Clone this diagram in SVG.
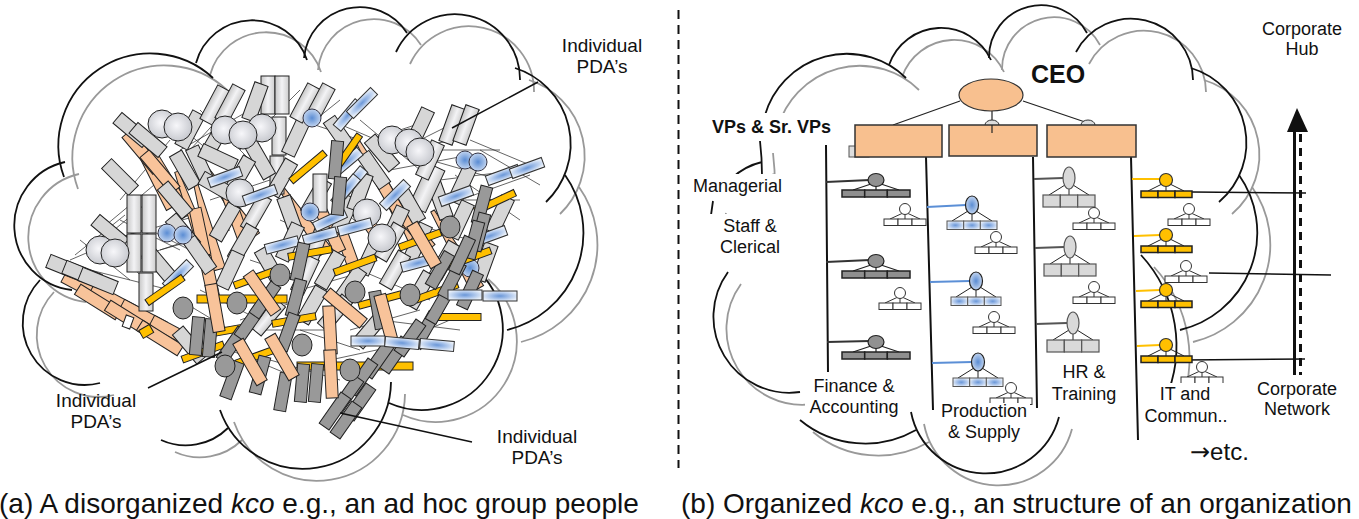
<svg xmlns="http://www.w3.org/2000/svg" xmlns:xlink="http://www.w3.org/1999/xlink" width="1359" height="519" viewBox="0 0 1359 519">
<style>
.arc{fill:none;stroke-width:1.8}
.t{font-family:"Liberation Sans",Arial,sans-serif;fill:#111}
.lb{font-size:18px}
.ind{font-size:19px}
.bg{fill:#fff;stroke:none}
.mesh{fill:none;stroke:#222;stroke-width:0.7}
.ln{fill:none;stroke:#111;stroke-width:1.5}
</style>
<defs>
<linearGradient id="gLG" x1="0" x2="1" y1="0" y2="0"><stop offset="0" stop-color="#c6c6c6"/><stop offset="0.5" stop-color="#f3f3f5"/><stop offset="1" stop-color="#cdcdcd"/></linearGradient>
<radialGradient id="gCL" cx="0.45" cy="0.45" r="0.6"><stop offset="0" stop-color="#f7f7fa"/><stop offset="1" stop-color="#c4c6cc"/></radialGradient>
<radialGradient id="gBL" cx="0.5" cy="0.5" r="0.55"><stop offset="0" stop-color="#6a97d8"/><stop offset="0.55" stop-color="#aec7ec"/><stop offset="1" stop-color="#e8eff9"/></radialGradient>
<radialGradient id="gCB" cx="0.5" cy="0.5" r="0.55"><stop offset="0" stop-color="#5b8dd4"/><stop offset="1" stop-color="#cddcf2"/></radialGradient>
<rect id="lg" x="-7" y="-19" width="14" height="38" fill="url(#gLG)" stroke="#222"/>
<rect id="ls" x="-7" y="-19" width="14" height="38" fill="#d6d6d6" stroke="#222"/>
<rect id="lw" x="-9" y="-23" width="18" height="46" fill="url(#gLG)" stroke="#222"/>
<rect id="pe" x="-6" y="-24" width="12" height="48" fill="#f8c39a" stroke="#222"/>
<path id="pw" d="M-2,-45 L2,-45 L7,45 L-7,45Z" fill="#f8c39a" stroke="#222"/>
<rect id="dg" x="-6" y="-19" width="12" height="38" fill="#999" stroke="#222"/>
<rect id="ye" x="-22" y="-3.5" width="44" height="7" fill="#ffc000" stroke="#222"/>
<rect id="bl" x="-17" y="-5" width="34" height="10" fill="url(#gBL)" stroke="#333"/>
<circle id="cl" r="14" fill="url(#gCL)" stroke="#222"/>
<ellipse id="cd" rx="10" ry="11" fill="#999" stroke="#222"/>
<circle id="cb" r="9" fill="url(#gCB)" stroke="#334"/>
<g id="tw">
<path d="M-2,4 L-15,10 M0,5.5 L0,10 M2,4 L15,10" fill="none" stroke="#333" stroke-width="1"/>
<circle r="5.5" fill="#fff" stroke="#333"/>
<rect x="-21" y="10" width="14" height="6.5" fill="#fff" stroke="#333"/>
<rect x="-7" y="10" width="14" height="6.5" fill="#fff" stroke="#333"/>
<rect x="7" y="10" width="14" height="6.5" fill="#fff" stroke="#333"/>
</g>
<g id="td">
<path d="M-5,4 L-23,10 M0,6 L0,10 M5,4 L23,10" fill="none" stroke="#222" stroke-width="1.2"/>
<ellipse rx="8" ry="6.5" fill="#919191" stroke="#222" stroke-width="1.2"/>
<rect x="-34" y="10" width="22.7" height="7" fill="#8f8f8f" stroke="#222" stroke-width="1.5"/>
<rect x="-11.3" y="10" width="22.7" height="7" fill="#8f8f8f" stroke="#222" stroke-width="1.5"/>
<rect x="11.3" y="10" width="22.7" height="7" fill="#8f8f8f" stroke="#222" stroke-width="1.5"/>
</g>
<g id="tb">
<path d="M-4,6 L-20,16 M0,9 L0,16 M4,6 L20,16" fill="none" stroke="#222" stroke-width="1"/>
<ellipse rx="6.5" ry="9" fill="url(#gCB)" stroke="#222" stroke-width="1.2"/>
<rect x="-25" y="16" width="16.7" height="8.5" fill="url(#gBL)" stroke="#555"/>
<rect x="-8.3" y="16" width="16.7" height="8.5" fill="url(#gBL)" stroke="#555"/>
<rect x="8.3" y="16" width="16.7" height="8.5" fill="url(#gBL)" stroke="#555"/>
</g>
<g id="tg">
<path d="M-4,7 L-20,17 M0,11 L0,17 M4,7 L20,17" fill="none" stroke="#222" stroke-width="1"/>
<ellipse rx="6" ry="11" fill="#d9d9d9" stroke="#555" stroke-width="1.2"/>
<rect x="-26" y="17" width="17.3" height="12" fill="#d9d9d9" stroke="#555" stroke-width="1.2"/>
<rect x="-8.7" y="17" width="17.3" height="12" fill="#d9d9d9" stroke="#555" stroke-width="1.2"/>
<rect x="8.7" y="17" width="17.3" height="12" fill="#d9d9d9" stroke="#555" stroke-width="1.2"/>
</g>
<g id="ty">
<path d="M-4,4 L-18,11 M0,6 L0,11 M4,4 L18,11" fill="none" stroke="#222" stroke-width="1"/>
<circle r="6.5" fill="#ffc000" stroke="#333" stroke-width="1.2"/>
<rect x="-25" y="11" width="17" height="6.5" fill="#ffc000" stroke="#222" stroke-width="1.5"/>
<rect x="-8" y="11" width="17" height="6.5" fill="#ffc000" stroke="#222" stroke-width="1.5"/>
<rect x="9" y="11" width="17" height="6.5" fill="#ffc000" stroke="#222" stroke-width="1.5"/>
</g>
<g id="cloudL">
<path d="M64,177 A92,92 0 0 1 213,78"/>
<path d="M196,63 A58,58 0 0 1 307,60"/>
<path d="M304,58 A56,56 0 0 1 407,33"/>
<path d="M396,52 A65,65 0 0 1 520,80"/>
<path d="M515,68 A80,80 0 0 1 546,202"/>
<path d="M565,175 A100,100 0 0 1 507,330"/>
<path d="M474,267 A81,81 0 0 1 389,403"/>
<path d="M220,410 A88,88 0 0 0 391,382"/>
<path d="M161,440 A60,60 0 0 0 228,428"/>
<path d="M40,280 A62,62 0 0 0 100,383"/>
<path d="M65,162 A65,65 0 0 0 72,290"/>
</g>
<g id="cloudR">
<path d="M765,115 A85,85 0 0 1 906,78"/>
<path d="M889,65 A55,55 0 0 1 991,60"/>
<path d="M989,58 A52,52 0 0 1 1087,33"/>
<path d="M1076,52 A62,62 0 0 1 1193,80"/>
<path d="M1191,68 A78,78 0 0 1 1219,202"/>
<path d="M1239,175 A100,100 0 0 1 1180,330"/>
<path d="M1141,255 A134,134 0 0 1 1165,400"/>
<path d="M911,412 A76,76 0 0 0 1059,417"/>
<path d="M800,420 A102,102 0 0 0 916,430"/>
<path d="M728,272 A76,76 0 0 0 800,392"/>
<path d="M760,141 Q762,158 762,175 M732,178 Q745,166 762,162 M713,201 L711,215 M709,221 L708,232"/>
</g>
</defs>

<rect width="1359" height="519" fill="#fff"/>

<!-- ===== Left panel (a) ===== -->
<g id="panel-a">
<g id="cloud-a">
<use href="#cloudL" class="arc" stroke="#999" transform="translate(14,12)"/>
<use href="#cloudL" class="arc" stroke="#111"/>
</g>
<g id="jumble">
<path class="mesh" d="M120,200 L170,140 M100,230 L160,180 M90,250 L150,200 M70,260 L140,230 M110,240 L200,215 M150,230 L210,260 M160,250 L230,230 M180,150 L250,110 M190,150 L240,95 M240,150 L300,90 M300,120 L360,140 M330,120 L400,150 M370,140 L430,120 M380,150 L460,140 M390,170 L470,155 M420,140 L480,110 M430,160 L500,180 M440,180 L520,170 M450,200 L520,200 M330,200 L390,250 M280,220 L350,250 M250,260 L310,280 M300,290 L370,270 M360,270 L430,300 M200,290 L260,320 M240,320 L300,300 M260,330 L330,330 M300,330 L360,350 M350,330 L420,310 M380,320 L460,330 M330,360 L400,345 M180,300 L230,330 M120,220 L180,250 M130,260 L190,240 M210,200 L270,180 M400,220 L470,240 M420,260 L480,250 M160,110 L220,160 M200,110 L260,170 M290,140 L340,100 M360,120 L420,170 M440,150 L500,150 M460,200 L530,175 M90,270 L170,290 M80,240 L130,280 M270,360 L340,380 M380,350 L450,320 M230,350 L290,375 M75,255 L125,215 M85,245 L150,260 M95,225 L140,275 M470,140 L530,165 M480,150 L540,185 M455,175 L520,220"/>
<!-- peach wedges / rects (back) -->
<use href="#pw" transform="translate(150,168) rotate(-30)"/>
<use href="#pw" transform="translate(166,176) rotate(-28)"/>
<use href="#pw" transform="translate(192,214) rotate(-20)"/>
<use href="#pw" transform="translate(207,226) rotate(-15)"/>
<use href="#pw" transform="translate(228,200) rotate(-35)"/>
<use href="#pw" transform="translate(380,180) rotate(-30)"/>
<use href="#pw" transform="translate(394,200) rotate(-28)"/>
<use href="#pw" transform="translate(300,215) rotate(-35)"/>
<use href="#pw" transform="translate(455,250) rotate(-30)"/>
<use href="#pe" transform="translate(142,152) rotate(-40)"/>
<use href="#pe" transform="translate(160,172) rotate(-40)"/>
<use href="#pe" transform="translate(200,232) rotate(-12)"/>
<use href="#pe" transform="translate(210,280) rotate(-12)"/>
<use href="#pe" transform="translate(350,256) rotate(-20)"/>
<use href="#pe" transform="translate(415,230) rotate(-40)"/>
<use href="#pe" transform="translate(386,190) rotate(-30)"/>
<use href="#pe" transform="translate(235,215) rotate(-20)"/>
<use href="#pe" transform="translate(330,230) rotate(-25)"/>
<use href="#pe" transform="translate(370,225) rotate(-35)"/>
<use href="#pe" transform="translate(85,288) rotate(-62)"/>
<use href="#pe" transform="translate(113,300) rotate(-62)"/>
<use href="#pe" transform="translate(143,316) rotate(-62)"/>
<use href="#pe" transform="translate(173,332) rotate(-62)"/>
<use href="#pe" transform="translate(98,302) rotate(-58)"/>
<use href="#pe" transform="translate(128,318) rotate(-58)"/>
<use href="#pe" transform="translate(160,338) rotate(-58)"/>
<!-- light gray rects -->
<use href="#lg" transform="translate(268,95)"/>
<use href="#lg" transform="translate(282,95)"/>
<use href="#lg" transform="translate(279,136)"/>
<use href="#lg" transform="translate(277,175)"/>
<use href="#ls" transform="translate(190,130) rotate(28)"/>
<use href="#ls" transform="translate(200,165) rotate(-25)"/>
<use href="#ls" transform="translate(185,170) rotate(-30)"/>
<use href="#ls" transform="translate(255,102) rotate(20)"/>
<use href="#ls" transform="translate(296,137) rotate(25)"/>
<use href="#ls" transform="translate(340,135) rotate(-35)"/>
<use href="#ls" transform="translate(420,127) rotate(25)"/>
<use href="#ls" transform="translate(120,177) rotate(-45)"/>
<use href="#ls" transform="translate(175,200) rotate(-40)"/>
<use href="#lg" transform="translate(215,105) rotate(28)"/>
<use href="#lg" transform="translate(230,104) rotate(28)"/>
<use href="#lg" transform="translate(305,103) rotate(28)"/>
<use href="#lg" transform="translate(320,103) rotate(28)"/>
<use href="#ls" transform="translate(132,130) rotate(-50)"/>
<use href="#ls" transform="translate(148,140) rotate(-50)"/>
<use href="#ls" transform="translate(215,140) rotate(30)"/>
<use href="#ls" transform="translate(218,158) rotate(-65)"/>
<use href="#lg" transform="translate(452,125) rotate(20)"/>
<use href="#lg" transform="translate(466,125) rotate(20)"/>
<use href="#ls" transform="translate(260,160) rotate(-30)"/>
<use href="#ls" transform="translate(240,175) rotate(30)"/>
<use href="#ls" transform="translate(282,178) rotate(30)"/>
<use href="#lg" transform="translate(316,197) rotate(30)"/>
<use href="#lg" transform="translate(320,193)"/>
<use href="#ls" transform="translate(345,215) rotate(25)"/>
<use href="#ls" transform="translate(382,153) rotate(-40)"/>
<use href="#ls" transform="translate(374,170) rotate(-35)"/>
<use href="#ls" transform="translate(360,192) rotate(20)"/>
<use href="#ls" transform="translate(440,200) rotate(-20)"/>
<use href="#ls" transform="translate(462,185) rotate(25)"/>
<use href="#ls" transform="translate(500,215) rotate(25)"/>
<use href="#ls" transform="translate(485,262) rotate(20)"/>
<use href="#lw" transform="translate(427,188) rotate(25)"/>
<use href="#lg" transform="translate(430,160) rotate(25)"/>
<use href="#ls" transform="translate(410,205) rotate(-30)"/>
<use href="#ls" transform="translate(395,225) rotate(25)"/>
<use href="#ls" transform="translate(183,232) rotate(-40)"/>
<use href="#ls" transform="translate(218,187) rotate(-60)"/>
<use href="#ls" transform="translate(225,222) rotate(30)"/>
<use href="#ls" transform="translate(110,232) rotate(-50)"/>
<use href="#ls" transform="translate(160,265) rotate(-40)"/>
<use href="#lg" transform="translate(256,213) rotate(30)"/>
<use href="#ls" transform="translate(290,215) rotate(-20)"/>
<use href="#ls" transform="translate(290,242) rotate(25)"/>
<use href="#ls" transform="translate(270,266) rotate(-30)"/>
<use href="#ls" transform="translate(243,243) rotate(30)"/>
<use href="#lg" transform="translate(317,243) rotate(20)"/>
<use href="#ls" transform="translate(370,256) rotate(25)"/>
<use href="#lg" transform="translate(390,242) rotate(30)"/>
<use href="#ls" transform="translate(418,242) rotate(25)"/>
<use href="#ls" transform="translate(460,220) rotate(25)"/>
<use href="#ls" transform="translate(445,260) rotate(30)"/>
<use href="#lg" transform="translate(395,270) rotate(30)"/>
<use href="#ls" transform="translate(420,290) rotate(30)"/>
<use href="#ls" transform="translate(200,255) rotate(-35)"/>
<use href="#ls" transform="translate(230,270) rotate(25)"/>
<use href="#lg" transform="translate(305,275) rotate(25)"/>
<use href="#ls" transform="translate(330,270) rotate(30)"/>
<use href="#ls" transform="translate(350,285) rotate(35)"/>
<use href="#ls" transform="translate(312,305) rotate(30)"/>
<use href="#lg" transform="translate(335,313) rotate(40)"/>
<use href="#ls" transform="translate(370,330) rotate(40)"/>
<use href="#lg" transform="translate(268,317) rotate(40)"/>
<use href="#ls" transform="translate(190,345) rotate(-40)"/>
<use href="#ls" transform="translate(66,268) rotate(-68)"/>
<use href="#ls" transform="translate(82,274) rotate(-68)"/>
<use href="#ls" transform="translate(98,281) rotate(-68)"/>
<use href="#lg" transform="translate(134,214)"/>
<use href="#lg" transform="translate(149,214)"/>
<use href="#lg" transform="translate(134,253)"/>
<use href="#lg" transform="translate(149,253)"/>
<use href="#lg" transform="translate(146,292)"/>
<!-- light circles -->
<use href="#cl" transform="translate(162,124)"/>
<use href="#cl" transform="translate(178,127)"/>
<use href="#cl" transform="translate(225,130)"/>
<use href="#cl" transform="translate(262,128)"/>
<use href="#cl" transform="translate(243,135)"/>
<use href="#cl" transform="translate(240,193)"/>
<use href="#cl" transform="translate(367,213)"/>
<use href="#cl" transform="translate(382,238)"/>
<use href="#cl" transform="translate(392,140)"/>
<use href="#cl" transform="translate(409,143)"/>
<use href="#cl" transform="translate(420,152)"/>
<use href="#cl" transform="translate(100,250)"/>
<use href="#cl" transform="translate(115,253)"/>
<!-- blue circles / rects -->
<use href="#cb" transform="translate(312,118)"/>
<use href="#cb" transform="translate(465,160)"/>
<use href="#cb" transform="translate(478,162)"/>
<use href="#cb" transform="translate(167,233)"/>
<use href="#cb" transform="translate(183,235)"/>
<use href="#cb" transform="translate(310,212)"/>
<use href="#cb" transform="translate(470,268)"/>
<use href="#bl" transform="translate(348,115) rotate(-50)"/>
<use href="#bl" transform="translate(362,103) rotate(-45)"/>
<use href="#bl" transform="translate(347,162) rotate(-40)"/>
<use href="#bl" transform="translate(353,182) rotate(-50)"/>
<use href="#bl" transform="translate(225,177) rotate(-20)"/>
<use href="#bl" transform="translate(260,195) rotate(-20)"/>
<use href="#bl" transform="translate(395,195) rotate(-45)"/>
<use href="#bl" transform="translate(330,220) rotate(-25)"/>
<use href="#bl" transform="translate(282,245) rotate(-15)"/>
<use href="#bl" transform="translate(320,236) rotate(-15)"/>
<use href="#bl" transform="translate(355,227) rotate(-15)"/>
<use href="#bl" transform="translate(418,263) rotate(-15)"/>
<use href="#bl" transform="translate(178,275) rotate(-45)"/>
<use href="#bl" transform="translate(346,190) rotate(-50)"/>
<use href="#bl" transform="translate(503,175) rotate(-20)"/>
<use href="#bl" transform="translate(527,168) rotate(-20)"/>
<use href="#bl" transform="translate(456,196) rotate(-20)"/>
<use href="#bl" transform="translate(490,236) rotate(-20)"/>
<!-- yellow -->
<use href="#ye" transform="translate(347,153) rotate(-55)"/>
<use href="#ye" transform="translate(308,167) rotate(-40)"/>
<use href="#ye" transform="translate(495,202) rotate(-25)"/>
<use href="#ye" transform="translate(420,240) rotate(-20)"/>
<use href="#ye" transform="translate(310,253) rotate(-10)"/>
<use href="#ye" transform="translate(255,278) rotate(-20)"/>
<use href="#ye" transform="translate(355,265) rotate(-20)"/>
<use href="#ye" transform="translate(470,258) rotate(-20)"/>
<use href="#ye" transform="translate(437,292) rotate(-20)"/>
<use href="#ye" transform="translate(380,300) rotate(-15)"/>
<use href="#ye" transform="translate(165,290) rotate(-35)"/>
<use href="#ye" transform="translate(294,320) rotate(-10)"/>
<use href="#ye" transform="translate(230,330) rotate(-10)"/>
<use href="#ye" transform="translate(459,317)"/>
<use href="#ye" transform="translate(257,356) rotate(-20)"/>
<use href="#ye" transform="translate(203,352) rotate(-20)"/>
<rect x="197" y="295" width="90" height="8" fill="#ffc000" stroke="#222"/>
<rect x="297" y="362" width="116" height="8" fill="#ffc000" stroke="#222"/>
<rect x="140" y="327" width="12" height="9" fill="#ffc000" stroke="#222" transform="rotate(-30 146 331)"/>
<rect x="124" y="316" width="8" height="12" fill="#fff" stroke="#222" transform="rotate(20 128 322)"/>
<!-- dark gray -->
<use href="#dg" transform="translate(336,160) rotate(5)"/>
<use href="#dg" transform="translate(339,196) rotate(5)"/>
<use href="#dg" transform="translate(482,205) rotate(15)"/>
<use href="#dg" transform="translate(480,232) rotate(15)"/>
<use href="#dg" transform="translate(474,240) rotate(15)"/>
<use href="#dg" transform="translate(470,290) rotate(25)"/>
<use href="#dg" transform="translate(440,270) rotate(30)"/>
<use href="#dg" transform="translate(197,336) rotate(5)"/>
<use href="#dg" transform="translate(210,338) rotate(5)"/>
<use href="#dg" transform="translate(232,345) rotate(35)"/>
<use href="#dg" transform="translate(250,322) rotate(35)"/>
<use href="#dg" transform="translate(265,300) rotate(35)"/>
<use href="#dg" transform="translate(232,380) rotate(20)"/>
<use href="#dg" transform="translate(260,375) rotate(15)"/>
<use href="#dg" transform="translate(283,392) rotate(10)"/>
<use href="#dg" transform="translate(300,262) rotate(12)"/>
<use href="#dg" transform="translate(296,298) rotate(15)"/>
<use href="#dg" transform="translate(288,332) rotate(20)"/>
<use href="#dg" transform="translate(302,383) rotate(5)"/>
<use href="#dg" transform="translate(316,383) rotate(5)"/>
<use href="#dg" transform="translate(378,310) rotate(-10)"/>
<use href="#dg" transform="translate(425,330) rotate(30)"/>
<use href="#dg" transform="translate(440,305) rotate(30)"/>
<use href="#dg" transform="translate(452,280) rotate(28)"/>
<use href="#dg" transform="translate(462,255) rotate(25)"/>
<use href="#dg" transform="translate(395,355) rotate(35)"/>
<use href="#dg" transform="translate(410,338) rotate(35)"/>
<use href="#dg" transform="translate(378,360) rotate(35)"/>
<use href="#dg" transform="translate(362,377) rotate(35)"/>
<use href="#dg" transform="translate(348,394) rotate(35)"/>
<use href="#dg" transform="translate(335,411) rotate(35)"/>
<use href="#dg" transform="translate(360,402) rotate(35)"/>
<use href="#dg" transform="translate(346,420) rotate(35)"/>
<!-- dark circles -->
<use href="#cd" transform="translate(450,227)"/>
<use href="#cd" transform="translate(183,308)"/>
<use href="#cd" transform="translate(237,303)"/>
<use href="#cd" transform="translate(280,275)"/>
<use href="#cd" transform="translate(355,292)"/>
<use href="#cd" transform="translate(410,295)"/>
<use href="#cd" transform="translate(302,345)"/>
<use href="#cd" transform="translate(350,370)"/>
<use href="#cd" transform="translate(225,366)"/>
<!-- peach on top (lower area) -->
<use href="#pe" transform="translate(215,308) rotate(-10)"/>
<use href="#pe" transform="translate(262,293) rotate(-35)"/>
<use href="#pe" transform="translate(282,357) rotate(-30)"/>
<use href="#pe" transform="translate(330,330) rotate(-3)"/>
<use href="#pe" transform="translate(331,374) rotate(-3)"/>
<use href="#pe" transform="translate(345,308) rotate(-50)"/>
<use href="#pe" transform="translate(386,318) rotate(-15)"/>
<use href="#pe" transform="translate(250,362) rotate(-30)"/>
<use href="#pe" transform="translate(424,245) rotate(-30)"/>
<!-- blue on top (lower area) -->
<use href="#bl" transform="translate(465,295)"/>
<use href="#bl" transform="translate(500,296)"/>
<use href="#bl" transform="translate(368,341)"/>
<use href="#bl" transform="translate(402,343) rotate(5)"/>
<use href="#bl" transform="translate(437,345) rotate(5)"/>
</g>
<g id="labels-a">
<path class="ln" d="M538,82 L452,128 M148,388 L222,352 M340,413 L472,442"/>
<text class="t ind" text-anchor="middle" x="602" y="52">Individual</text>
<text class="t ind" text-anchor="middle" x="602" y="73">PDA’s</text>
<text class="t ind" text-anchor="middle" x="96" y="407">Individual</text>
<text class="t ind" text-anchor="middle" x="96" y="428">PDA’s</text>
<text class="t ind" text-anchor="middle" x="537" y="443">Individual</text>
<text class="t ind" text-anchor="middle" x="537" y="464">PDA’s</text>
</g>
<text id="caption-a" class="t" x="-1" y="513" font-size="28">(a) A disorganized <tspan font-style="italic">kco</tspan> e.g., an ad hoc group people</text>
</g>

<!-- divider -->
<line id="divider" x1="678.5" y1="10" x2="678.5" y2="468" stroke="#111" stroke-width="2" stroke-dasharray="9 6"/>

<!-- ===== Right panel (b) ===== -->
<g id="panel-b">
<g id="cloud-b">
<use href="#cloudR" class="arc" stroke="#999" transform="translate(13,12)"/>
<use href="#cloudR" class="arc" stroke="#111"/>
</g>

<g id="connectors">
<path d="M960,101 L893,125 M1023,101 L1088,123 M992,110 L992,133" fill="none" stroke="#222" stroke-width="1.2"/>
<path d="M826,145 L828,372 M926,157 L933,410 M1033,157 L1037,408 M1131,157 L1138,440" fill="none" stroke="#111" stroke-width="2"/>
<path d="M826,182 L870,180 M826,262 L870,260 M827,342 L870,341" fill="none" stroke="#333" stroke-width="2"/>
<path d="M927,207 L966,205 M930,282 L970,281 M932,363 L972,362" fill="none" stroke="#5b8fd6" stroke-width="2"/>
<path d="M1034,179 L1063,178 M1035,248 L1064,247 M1036,324 L1067,323" fill="none" stroke="#555" stroke-width="2"/>
<path d="M1132,179 L1160,179 M1134,236 L1160,235 M1136,291 L1160,290 M1137,346 L1160,345" fill="none" stroke="#ffc000" stroke-width="2"/>
<path d="M1192,192 L1306,193 M1209,273 L1331,275 M1184,360 L1305,359" fill="none" stroke="#111" stroke-width="1.6"/>
<line x1="1294.5" y1="128" x2="1294.5" y2="375" stroke="#111" stroke-width="3"/>
<line x1="1300.5" y1="134" x2="1300.5" y2="375" stroke="#111" stroke-width="3" stroke-dasharray="8 6"/>
<polygon points="1297,108 1287,132 1308,132" fill="#111"/>
</g>

<g id="ceo">
<ellipse cx="991" cy="95" rx="32" ry="16" fill="#f8c08f" stroke="#333" stroke-width="1.2"/>
</g>
<g id="vps">
<path d="M985,125 A7,5 0 0 1 999,125 M1081,125 A7,5 0 0 1 1095,125" fill="#ddd" stroke="#333"/>
<rect x="849" y="146" width="20" height="11" fill="#ddd" stroke="#555"/>
<rect id="vp1" x="855" y="125" width="87" height="32" fill="#f8c08f" stroke="#333" stroke-width="1.5"/>
<rect id="vp2" x="949" y="125" width="88" height="31" fill="#f8c08f" stroke="#333" stroke-width="1.5"/>
<rect id="vp3" x="1047" y="125" width="89" height="32" fill="#f8c08f" stroke="#333" stroke-width="1.5"/>
<line x1="992" y1="125" x2="992" y2="133" stroke="#222" stroke-width="1.2"/>
</g>

<g id="finance">
<use href="#td" transform="translate(876,180)"/>
<use href="#td" transform="translate(876,261)"/>
<use href="#td" transform="translate(876,342)"/>
<use href="#tw" transform="translate(905,209)"/>
<use href="#tw" transform="translate(900,293)"/>
</g>
<g id="production">
<use href="#tb" transform="translate(972,205)"/>
<use href="#tb" transform="translate(976,281)"/>
<use href="#tb" transform="translate(978,362)"/>
<use href="#tw" transform="translate(996,237)"/>
<use href="#tw" transform="translate(994,317)"/>
<use href="#tw" transform="translate(1011,388)"/>
</g>
<g id="hr">
<use href="#tg" transform="translate(1069,178)"/>
<use href="#tg" transform="translate(1070,247)"/>
<use href="#tg" transform="translate(1073,323)"/>
<use href="#tw" transform="translate(1094,213)"/>
<use href="#tw" transform="translate(1094,287)"/>
</g>
<g id="it">
<use href="#ty" transform="translate(1166,180)"/>
<use href="#ty" transform="translate(1166,235)"/>
<use href="#ty" transform="translate(1166,290)"/>
<use href="#ty" transform="translate(1166,345)"/>
<use href="#tw" transform="translate(1189,209)"/>
<use href="#tw" transform="translate(1186,266)"/>
<use href="#tw" transform="translate(1202,367)"/>
</g>

<g id="labels-b">
<rect class="bg" x="705" y="113" width="136" height="27"/>
<rect class="bg" x="690" y="174" width="98" height="24"/>
<rect class="bg" x="700" y="214" width="90" height="46"/>
<rect class="bg" x="805" y="376" width="99" height="44"/>
<rect class="bg" x="937" y="403" width="93" height="42"/>
<rect class="bg" x="1050" y="363" width="70" height="44"/>
<rect class="bg" x="1140" y="383" width="92" height="45"/>
<rect class="bg" x="1252" y="379" width="90" height="42"/>
<text class="t" x="1031" y="83" font-size="25" font-weight="bold">CEO</text>
<text class="t" x="712" y="133" font-size="18" font-weight="bold">VPs &amp; Sr. VPs</text>
<text class="t lb" x="693" y="192">Managerial</text>
<text class="t lb" text-anchor="middle" x="750" y="232">Staff &amp;</text>
<text class="t lb" text-anchor="middle" x="750" y="253">Clerical</text>
<text class="t lb" text-anchor="middle" x="854" y="392">Finance &amp;</text>
<text class="t lb" text-anchor="middle" x="854" y="413">Accounting</text>
<text class="t lb" text-anchor="middle" x="984" y="417">Production</text>
<text class="t lb" text-anchor="middle" x="984" y="438">&amp; Supply</text>
<text class="t lb" text-anchor="middle" x="1084" y="378">HR &amp;</text>
<text class="t lb" text-anchor="middle" x="1084" y="400">Training</text>
<text class="t lb" text-anchor="middle" x="1185" y="400">IT and</text>
<text class="t lb" text-anchor="middle" x="1186" y="422">Commun..</text>
<text class="t lb" text-anchor="middle" x="1302" y="35">Corporate</text>
<text class="t lb" text-anchor="middle" x="1302" y="55">Hub</text>
<text class="t lb" text-anchor="middle" x="1297" y="395">Corporate</text>
<text class="t lb" text-anchor="middle" x="1297" y="415">Network</text>
<text class="t" x="1190" y="460" font-size="24"><tspan font-family="'DejaVu Sans',sans-serif">→</tspan>etc.</text>
</g>
<text id="caption-b" class="t" x="681" y="513" font-size="28">(b) Organized <tspan font-style="italic">kco</tspan> e.g., an structure of an organization</text>
</g>
</svg>
